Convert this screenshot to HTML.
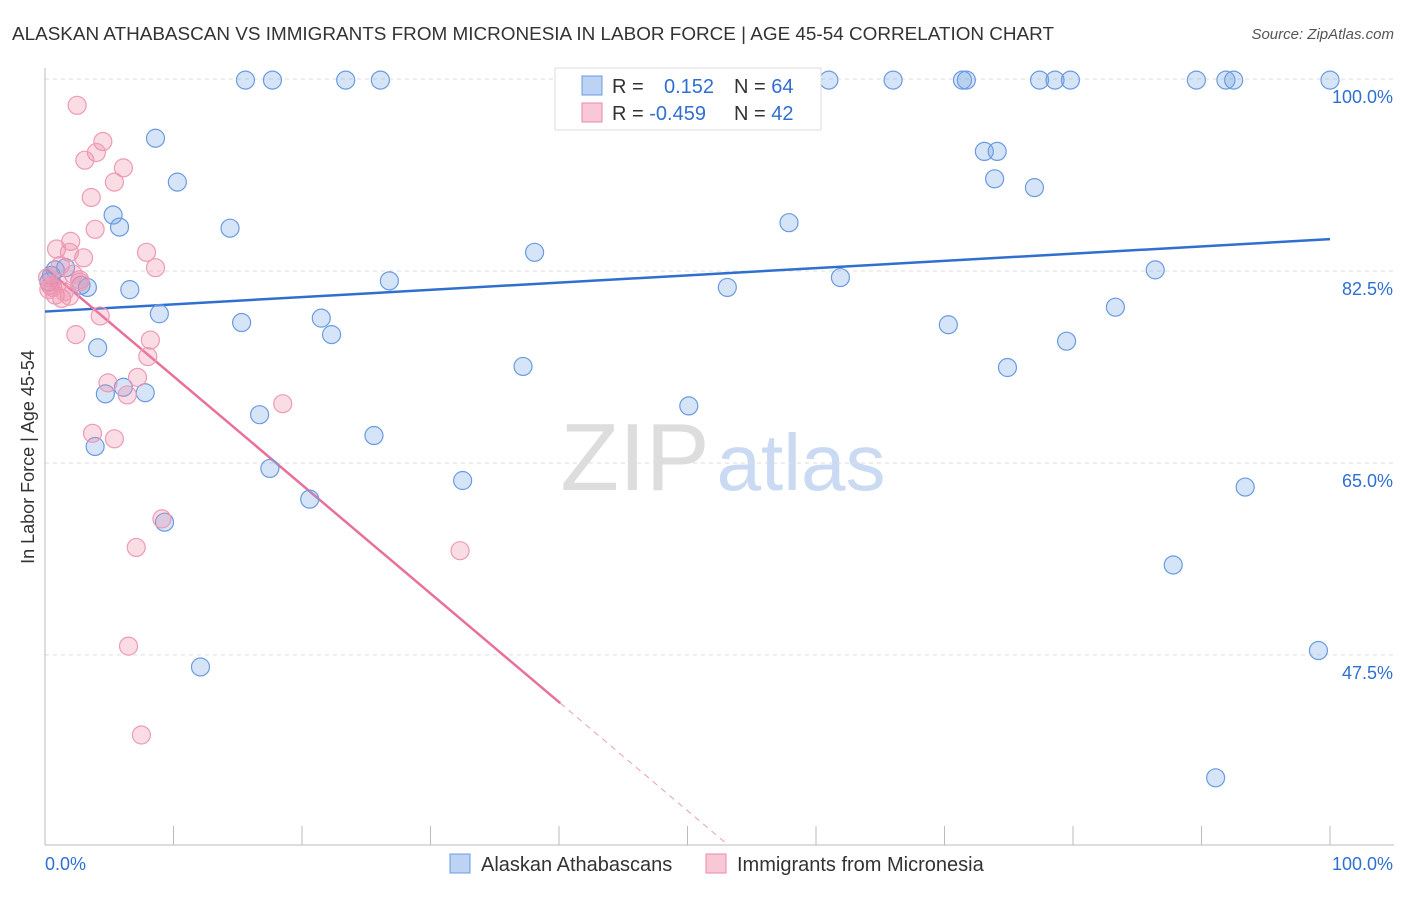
<!DOCTYPE html>
<html><head><meta charset="utf-8"><style>
body{margin:0;background:#fff;font-family:"Liberation Sans",sans-serif;}
svg text{font-family:"Liberation Sans",sans-serif;}
</style></head><body>
<svg id="chart" width="1406" height="892" xmlns="http://www.w3.org/2000/svg">
<text x="12" y="40" font-size="18.9" fill="#333">ALASKAN ATHABASCAN VS IMMIGRANTS FROM MICRONESIA IN LABOR FORCE | AGE 45-54 CORRELATION CHART</text>
<text x="1394" y="39" font-size="15" fill="#555" font-style="italic" text-anchor="end">Source: ZipAtlas.com</text>
<text x="34" y="457" font-size="18" fill="#333" text-anchor="middle" transform="rotate(-90 34 457)">In Labor Force | Age 45-54</text>
<g>
<text x="635" y="490" font-size="96" fill="#ddd" text-anchor="middle" font-family="Liberation Serif,serif">ZIP</text>
<text x="801" y="490" font-size="80" fill="#c9daf2" text-anchor="middle">atlas</text>
</g>
<g id="grid"></g><g id="axes"></g><g id="lines"></g><g id="pts"></g>
<g>
<rect x="555" y="68" width="266" height="62" fill="#fff" stroke="#ddd"/>
<rect x="582" y="76" width="20" height="19" fill="#bcd3f3" stroke="#6a9be0"/>
<rect x="582" y="103" width="20" height="19" fill="#f9c8d6" stroke="#ea8aa8"/>
<text x="612" y="93" font-size="20" fill="#333">R = <tspan fill="#2f6fd0" x="664">0.152</tspan><tspan x="734">N = </tspan><tspan fill="#2f6fd0">64</tspan></text>
<text x="612" y="120" font-size="20" fill="#333">R = <tspan fill="#2f6fd0">-0.459</tspan><tspan x="734">N = </tspan><tspan fill="#2f6fd0">42</tspan></text>
</g>
<g>
<rect x="450" y="854" width="20" height="19" fill="#bcd3f3" stroke="#6a9be0"/>
<text x="481" y="871" font-size="20" fill="#333">Alaskan Athabascans</text>
<rect x="706" y="854" width="20" height="19" fill="#f9c8d6" stroke="#ea8aa8"/>
<text x="737" y="871" font-size="20" fill="#333">Immigrants from Micronesia</text>
</g>
</svg>
<script>
const blueX=[15.6,17.7,23.4,26.1,61.0,66.0,71.4,71.7,77.4,78.6,79.8,89.6,91.9,92.5,100,8.6,10.3,5.3,5.8,14.4,73.1,74.1,73.9,77.0,57.9,38.1,86.4,61.9,26.8,53.1,0.8,1.6,0.5,3.3,6.6,8.9,15.3,21.5,22.3,70.3,83.3,79.5,4.1,37.2,74.9,6.1,4.7,7.8,16.7,50.1,25.6,3.9,17.5,32.5,93.4,20.6,9.3,87.8,99.1,12.1,91.1,2.8,0.3];
const blueY=[99.9,99.9,99.9,99.9,99.9,99.9,99.9,99.9,99.9,99.9,99.9,99.9,99.9,99.9,99.9,94.6,90.6,87.6,86.5,86.4,93.4,93.4,90.9,90.1,86.9,84.2,82.6,81.9,81.6,81.0,82.6,82.8,82.1,81.0,80.8,78.6,77.8,78.2,76.7,77.6,79.2,76.1,75.5,73.8,73.7,71.9,71.3,71.4,69.4,70.2,67.5,66.5,64.5,63.4,62.8,61.7,59.6,55.7,47.9,46.4,36.3,81.2,81.5];
const pinkX=[2.5,4.5,4.0,3.1,6.1,5.4,3.6,3.9,7.9,8.6,2.0,0.9,1.9,3.0,2.7,0.4,0.8,1.3,1.9,2.7,4.3,2.4,8.2,8.0,7.2,4.9,6.4,18.5,3.7,5.4,9.1,7.1,32.3,6.5,7.5,1.2,0.2,0.6,1.5,0.3,1.0,2.2];
const pinkY=[97.6,94.3,93.3,92.6,91.9,90.6,89.2,86.3,84.2,82.8,85.2,84.5,84.2,83.7,81.7,81.2,80.3,80.0,80.2,81.5,78.4,76.7,76.2,74.7,72.8,72.3,71.2,70.4,67.7,67.2,59.9,57.3,57.0,48.3,40.2,83.0,81.9,81.0,80.6,80.8,81.4,82.2];
const yTicks=[100,82.5,65,47.5];
const yTickLabels=["100.0%","82.5%","65.0%","47.5%"];
const blueTrend=[78.8,85.4];
const pinkTrend=[82.8,-0.99];
const pinkSolidEnd=40.1;
const X0=45,X1=1330,YTOP=79,PPU=10.97,YBOT=845;
const sx=v=>X0+(X1-X0)*v/100, sy=v=>YTOP+(100-v)*PPU;
const NS="http://www.w3.org/2000/svg";
function mk(t,a,p){const e=document.createElementNS(NS,t);for(const k in a)e.setAttribute(k,a[k]);p.appendChild(e);return e;}
const grid=document.getElementById('grid'),axes=document.getElementById('axes'),lines=document.getElementById('lines'),pts=document.getElementById('pts');
yTicks.forEach((v,i)=>{
 const l=mk('line',{x1:X0,x2:1394,y1:sy(v),y2:sy(v),stroke:'#ddd','stroke-dasharray':'4,4'},grid);
 
 
 const t=mk('text',{x:1393,y:sy(v)+24,'font-size':18,fill:'#2f6fd0','text-anchor':'end'},axes);
 t.textContent=yTickLabels[i];
 
 
});
mk('line',{x1:X0,x2:X0,y1:68,y2:YBOT,stroke:'#bbb'},axes);
mk('line',{x1:X0,x2:1394,y1:YBOT,y2:YBOT,stroke:'#bbb'},axes);
for(let i=0;i<=10;i++){const tk=mk('line',{x1:sx(i*10),x2:sx(i*10),y1:826,y2:YBOT,stroke:'#bbb'},axes);
 
 }
let t0=mk('text',{x:45,y:870,'font-size':18,fill:'#2f6fd0'},axes);t0.textContent='0.0%';


let t1=mk('text',{x:1393,y:870,'font-size':18,fill:'#2f6fd0','text-anchor':'end'},axes);t1.textContent='100.0%';


blueX.forEach((x,i)=>{const c=mk('circle',{cx:sx(x),cy:sy(blueY[i]),r:9,fill:'rgba(120,165,230,0.3)',stroke:'#6a9be0','stroke-width':1.2},pts);
 
 });
pinkX.forEach((x,i)=>{const c=mk('circle',{cx:sx(x),cy:sy(pinkY[i]),r:9,fill:'rgba(240,140,170,0.3)',stroke:'#ee9ab5','stroke-width':1.2},pts);
 
 });
const bl=mk('line',{x1:sx(0),y1:sy(blueTrend[0]),x2:sx(100),y2:sy(blueTrend[1]),stroke:'#2f6fd0','stroke-width':2.5},lines);


const pe=pinkTrend[0]+pinkTrend[1]*pinkSolidEnd;
const pl=mk('line',{x1:sx(0),y1:sy(pinkTrend[0]),x2:sx(pinkSolidEnd),y2:sy(pe),stroke:'#e8709a','stroke-width':2.5},lines);


const xEnd=(30.2-pinkTrend[0])/pinkTrend[1];
const pd=mk('line',{x1:sx(pinkSolidEnd),y1:sy(pe),x2:sx(xEnd),y2:sy(30.2),stroke:'#e8a0b8','stroke-width':1,'stroke-dasharray':'6,5'},lines);


</script>
</body></html>
